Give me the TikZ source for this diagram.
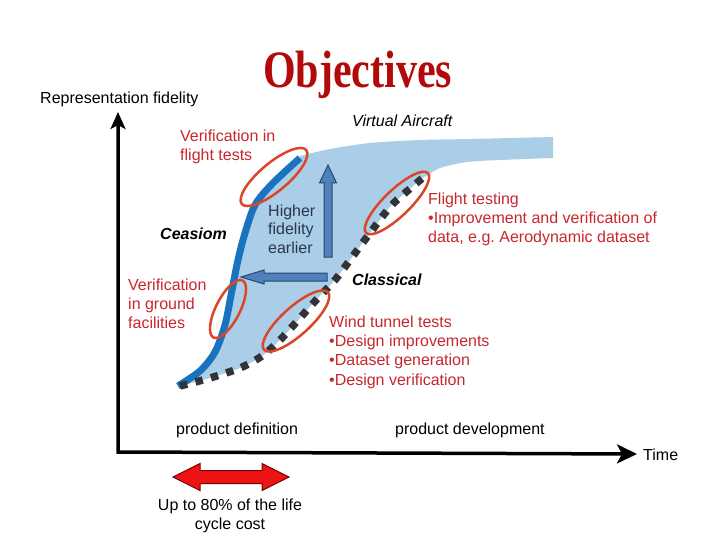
\documentclass[tikz,border=0pt]{standalone}
\usepackage{fontspec}
\setmainfont{Liberation Sans}
\newfontfamily\titlefont{Liberation Serif}
\usetikzlibrary{arrows.meta}
\definecolor{regionblue}{RGB}{170,206,231}
\definecolor{curveblue}{RGB}{25,115,190}
\definecolor{dotgray}{RGB}{50,50,55}
\definecolor{arrowblue}{RGB}{79,129,189}
\definecolor{arrowedge}{RGB}{40,70,110}
\definecolor{labelred}{RGB}{200,38,45}
\definecolor{ellred}{RGB}{220,70,40}
\definecolor{titlered}{RGB}{178,10,10}
\definecolor{dblred}{RGB}{238,20,20}
\definecolor{dbledge}{RGB}{120,0,0}
\definecolor{hfetext}{RGB}{40,55,75}
\tikzset{
  lbl/.style={inner sep=0pt, font=\fontsize{16}{19}\selectfont, align=left},
  redlbl/.style={lbl, text=labelred},
  ellc/.style={draw=ellred, line width=2.5pt},
  axisline/.style={line width=3.5pt, line join=miter, black},
  blockarrow/.style={fill=arrowblue, draw=arrowedge, line width=1pt, line join=miter}
}
\begin{document}
\begin{tikzpicture}[x=1pt,y=-1pt]
\useasboundingbox (0,0) rectangle (720,540);
% title
\node[anchor=base, inner sep=0pt, text=titlered, font=\titlefont\bfseries\fontsize{42}{42}\selectfont] (title) at (357.5,88) {\scalebox{1}[1.25]{Objectives}};
% shaded region
\fill[regionblue]
  plot[smooth] coordinates {(178,386) (200,371) (215,352) (225,325) (232,290) (238,260) (245,233) (255,205) (272,184) (300,158)}
  -- plot[smooth] coordinates {(300,156) (330,149) (370,143) (420,140) (470,139) (553,137)}
  -- (553,158)
  -- plot[smooth] coordinates {(553,158) (500,160) (467,162) (440,168) (425,177)}
  -- plot[smooth] coordinates {(425,176) (405,193) (390,207) (370,233) (350,260) (335,280) (318,298) (300,318) (280,340) (262,356) (240,368) (210,378) (180,386)}
  -- cycle;
% Ceasiom curve
\draw[curveblue, line width=7pt] plot[smooth] coordinates {(178,386) (200,371) (215,352) (225,325) (232,290) (238,260) (245,233) (255,205) (272,184) (300,158)};
% Classical dotted curve
\draw[dotgray, line width=7.5pt, dash pattern=on 7.5pt off 8.5pt] plot[smooth] coordinates {(180,386) (210,378) (240,368) (262,356) (280,340) (300,318) (318,298) (335,280) (350,260) (370,233) (390,207) (405,193) (425,176)};
% block arrows
\draw[blockarrow] (324,257) -- (324,183) -- (319.5,183) -- (328,165) -- (336.5,183) -- (332,183) -- (332,257) -- cycle;
\draw[blockarrow] (327,273) -- (264,273) -- (264,270) -- (241,277) -- (264,284) -- (264,281) -- (327,281) -- cycle;
% ellipses
\draw[ellc, rotate around={40:(274,177)}] (274,177) ellipse [x radius=42pt, y radius=14pt];
\draw[ellc, rotate around={44:(397,203)}] (397,203) ellipse [x radius=43pt, y radius=13pt];
\draw[ellc, rotate around={63:(228,309)}] (228,309) ellipse [x radius=32pt, y radius=12pt];
\draw[ellc, rotate around={42:(296,321)}] (296,321) ellipse [x radius=43pt, y radius=14pt];
% axes
\coordinate (ytop) at (118,112);
\coordinate (O) at (118,452);
\coordinate (xend) at (637,454);
\draw[axisline, {Stealth[length=17pt,width=15pt,inset=4pt]}-{Stealth[length=20pt,width=19pt,inset=5pt]}] (ytop) -- (O) -- (xend);
% red double arrow
\draw[fill=dblred, draw=dbledge, line width=1pt, line join=miter] (173,477) -- (200,463.5) -- (200,470.5) -- (262,470.5) -- (262,463.5) -- (289,477) -- (262,490.5) -- (262,483.5) -- (200,483.5) -- (200,490.5) -- cycle;
% labels (multi-line nodes: base = baseline of last line)
\node[lbl, anchor=base west] (yl) at (40,104) {Representation fidelity};
\node[lbl, anchor=base west, font=\fontsize{16}{19}\selectfont\itshape] (va) at (352,127) {Virtual Aircraft};
\node[redlbl, anchor=base west] (vft) at (180,161) {Verification in\\flight tests};
\node[lbl, anchor=base west, font=\fontsize{16}{19}\selectfont\bfseries\itshape] (ceas) at (160,240) {Ceasiom};
\node[lbl, anchor=base west, text=hfetext, font=\fontsize{16}{18.5}\selectfont] (hfe) at (268,253) {Higher\\fidelity\\earlier};
\node[redlbl, anchor=base west] (flt) at (428,242) {Flight testing\\•Improvement and verification of\\data, e.g.\ Aerodynamic dataset};
\node[lbl, anchor=base west, font=\fontsize{16}{19}\selectfont\bfseries\itshape] (class) at (352,285) {Classical};
\node[redlbl, anchor=base west] (vgf) at (128,328) {Verification\\in ground\\facilities};
\node[redlbl, anchor=base west, font=\fontsize{16}{19.3}\selectfont] (wtt) at (329,385) {Wind tunnel tests\\•Design improvements\\•Dataset generation\\•Design verification};
\node[lbl, anchor=base west] (pdef) at (176,434) {product definition};
\node[lbl, anchor=base west] (pdev) at (395,434) {product development};
\node[lbl, anchor=base west] (time) at (643,460) {Time};
\node[lbl, anchor=base, align=center] (cost) at (230,529) {Up to 80\% of the life\\cycle cost};
\end{tikzpicture}
\end{document}
